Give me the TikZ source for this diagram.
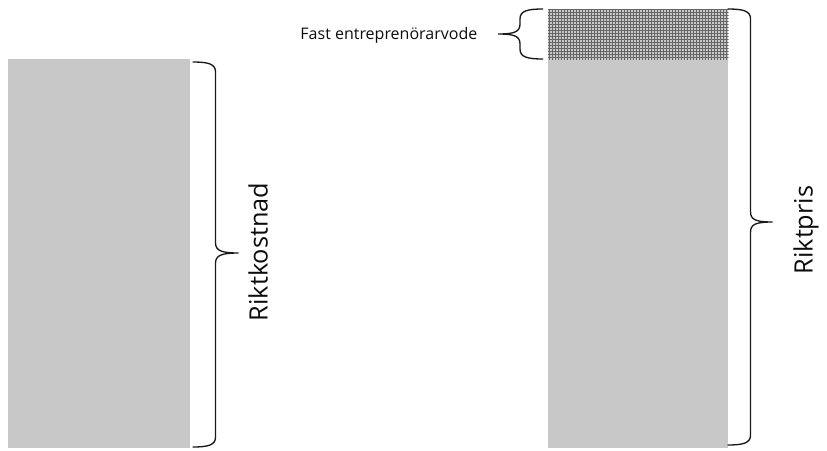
\documentclass[tikz,border=0pt]{standalone}
\usepackage{fontspec}
\setmainfont{Open Sans}
\usepackage{tikz}
\usetikzlibrary{positioning}
\definecolor{barfill}{HTML}{C8C8C8}
\definecolor{hatchline}{HTML}{666666}

\begin{document}
\begin{tikzpicture}[x=0.75pt, y=-0.75pt,
    bar/.style={rectangle, fill=barfill, inner sep=0pt, anchor=north west},
    hatch/.style={hatchline, line width=0.5pt, step=2.25pt},
    curly/.style={draw=black!90, line width=1pt},
    label/.style={font=\fontsize{19}{21}\selectfont, text=black!95},
    small/.style={font=\fontsize{12}{14}\selectfont, text=black!95}
]
\useasboundingbox (0,0) rectangle (827,450);

% Draw the bars
\node[bar, minimum width=136.5pt, minimum height=291.75pt] (cost) at (8,59) {};
\node[bar, minimum width=135pt, minimum height=291.75pt] (price) at (548,59) {};
\node[bar, minimum width=135pt, minimum height=37.5pt] (fee) at (548,9) {};

% Hatch the fee part
\begin{scope}
  \clip (fee.south west) rectangle (fee.north east);
  \draw[hatch] (fee.south west) grid (fee.north east);
\end{scope}

% Braces
\draw[curly] ([xshift=1.5pt, yshift=-2.25pt]cost.north east)
  .. controls +(16,0) and +(0,-8) .. ++(23,10) -- ++(0,171)
  .. controls +(0,8) and +(-16,0) .. ++(23,10)
  .. controls +(-16,0) and +(0,-8) .. ++(-23,10) -- ++(0,174)
  .. controls +(0,8) and +(16,0) .. ++(-23,10);
\draw[curly] ([xshift=-0.75pt]fee.north east)
  .. controls +(16,0) and +(0,-8) .. ++(23,10) -- ++(0,193)
  .. controls +(0,8) and +(-16,0) .. ++(22,10)
  .. controls +(-16,0) and +(0,-8) .. ++(-22,10) -- ++(0,203)
  .. controls +(0,8) and +(16,0) .. ++(-23,10);
\draw[curly] ([xshift=-3.75pt]fee.north west)
  .. controls +(-16,0) and +(0,-8) .. ++(-23,10) -- ++(0,5)
  .. controls +(0,8) and +(16,0) .. ++(-22,10)
  .. controls +(16,0) and +(0,-8) .. ++(22,10) -- ++(0,5)
  .. controls +(0,8) and +(-16,0) .. ++(23,10);

% Labels
\node[label, rotate=90] (costlabel) at (258,252) {Riktkostnad};
\node[label, rotate=90] (pricelabel) at (806,230) {Riktpris};
\node[small, anchor=east] (feelabel) at (482,35) {Fast entreprenörarvode};

\end{tikzpicture}
\end{document}
